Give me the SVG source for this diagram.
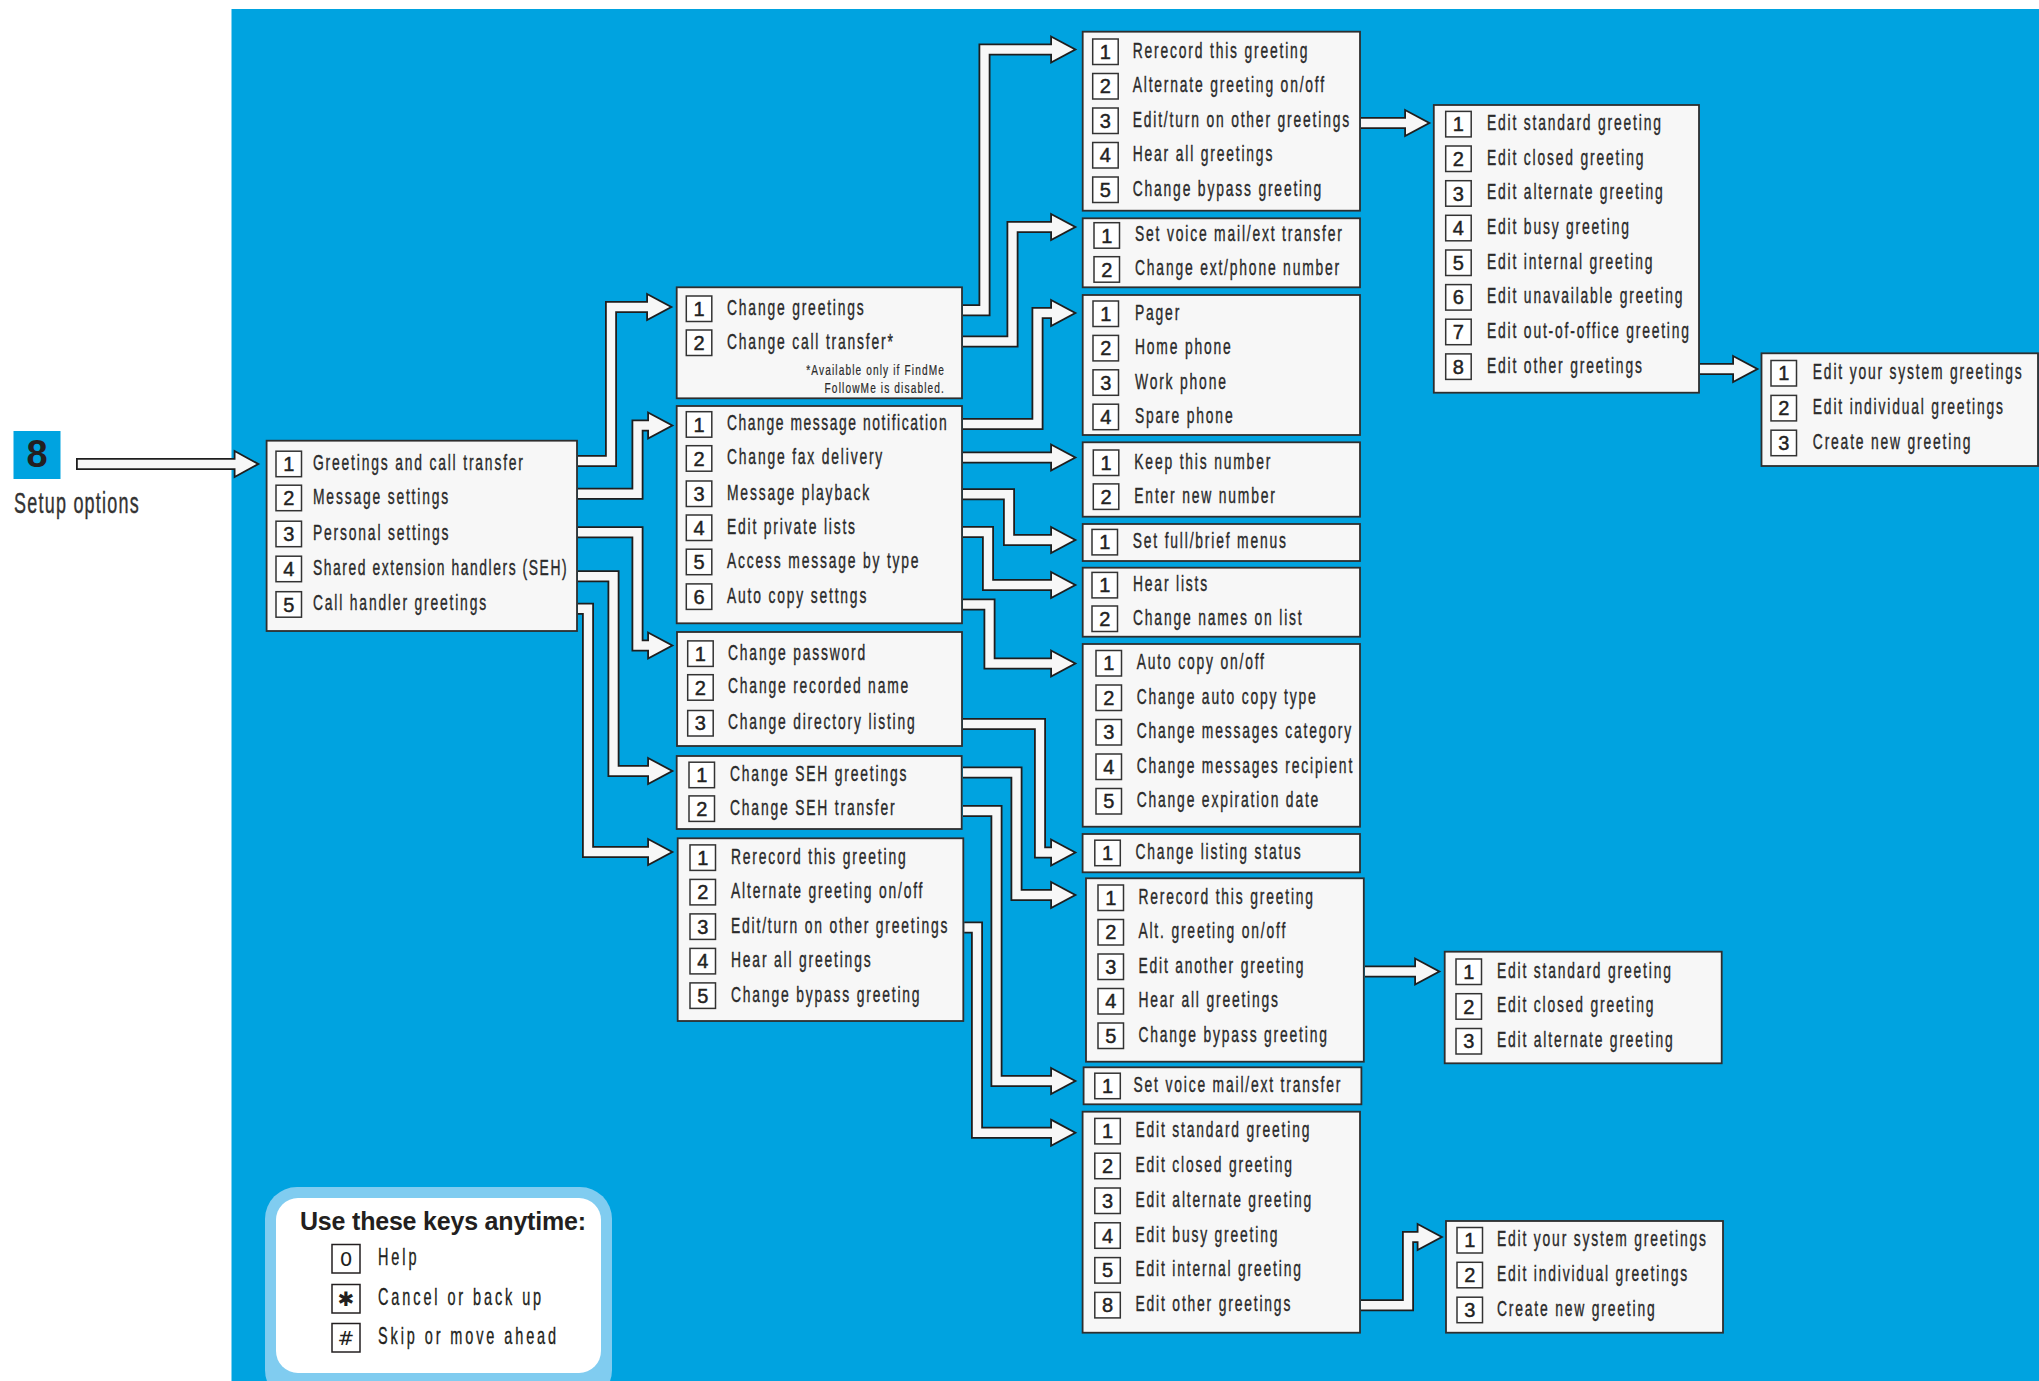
<svg xmlns="http://www.w3.org/2000/svg" width="2039" height="1381" viewBox="0 0 2039 1381">
<style>
.bg{fill:#00a3e0}
.box{fill:#f7f7f7;stroke:#2e2e2e;stroke-width:1.8}
.nb{fill:#fff;stroke:#333;stroke-width:1.5}
.d{font-family:"Liberation Sans",Arial,sans-serif;font-size:20px;fill:#222;text-anchor:middle;stroke:#222;stroke-width:0.45}
.t{font-family:"Liberation Sans",Arial,sans-serif;font-size:22px;letter-spacing:2.9px;fill:#2a2a2a;stroke:#2a2a2a;stroke-width:0.4}
.fn{font-family:"Liberation Sans",Arial,sans-serif;font-size:14.5px;letter-spacing:1.6px;fill:#2a2a2a;text-anchor:end;stroke:#2a2a2a;stroke-width:0.2}
.co{fill:none;stroke:#1e1e1e;stroke-width:12;stroke-linejoin:miter}
.ci{fill:none;stroke:#f7f7f7;stroke-width:8.4;stroke-linejoin:miter}
.ho{fill:#1e1e1e;stroke:#1e1e1e;stroke-width:3.6;stroke-linejoin:miter}
.hi{fill:#f7f7f7}
.lt{font-family:"Liberation Sans",Arial,sans-serif;font-size:23px;letter-spacing:4.6px;fill:#231f20;stroke:#231f20;stroke-width:0.35}
.kb{fill:#fff;stroke:#231f20;stroke-width:1.5}
.kd{font-family:"DejaVu Sans","Liberation Sans",sans-serif;font-size:20px;fill:#231f20;text-anchor:middle}
</style>
<rect class="bg" x="231.5" y="9" width="1807.5" height="1372"/>

<g id="title">
<rect class="bg" x="13.5" y="431" width="47" height="48"/>
<text x="37" y="467" style="font-family:'Liberation Sans',Arial,sans-serif;font-size:38px;font-weight:bold;fill:#231f20;text-anchor:middle">8</text>
<text x="14" y="513" transform="matrix(0.62 0 0 1 5.32 0)" style="font-family:'Liberation Sans',Arial,sans-serif;font-size:29px;letter-spacing:2px;fill:#333;stroke:#333;stroke-width:0.4">Setup options</text>
</g>

<g id="connectors">
<g><path class="co" d="M76 464H236.5"/><polygon class="ho" points="235.5,452.5 256.5,464 235.5,475.5"/><path class="ci" d="M77.8 464H236.5"/><polygon class="hi" points="235.5,452.5 256.5,464 235.5,475.5"/></g>
<g><path class="co" d="M578 461H611V307H649"/><polygon class="ho" points="648,295.5 669.5,307 648,318.5"/><path class="ci" d="M578 461H611V307H649"/><polygon class="hi" points="648,295.5 669.5,307 648,318.5"/></g>
<g><path class="co" d="M578 493.7H637.5V425.5H650"/><polygon class="ho" points="649,414 670.5,425.5 649,437"/><path class="ci" d="M578 493.7H637.5V425.5H650"/><polygon class="hi" points="649,414 670.5,425.5 649,437"/></g>
<g><path class="co" d="M578 532.2H637.5V645.5H650"/><polygon class="ho" points="649,634 670.5,645.5 649,657"/><path class="ci" d="M578 532.2H637.5V645.5H650"/><polygon class="hi" points="649,634 670.5,645.5 649,657"/></g>
<g><path class="co" d="M578 576.2H613.5V771H650"/><polygon class="ho" points="649,759.5 670.5,771 649,782.5"/><path class="ci" d="M578 576.2H613.5V771H650"/><polygon class="hi" points="649,759.5 670.5,771 649,782.5"/></g>
<g><path class="co" d="M578 608.8H588V852H650"/><polygon class="ho" points="649,840.5 670.5,852 649,863.5"/><path class="ci" d="M578 608.8H588V852H650"/><polygon class="hi" points="649,840.5 670.5,852 649,863.5"/></g>

<g><path class="co" d="M963 310.3H984.5V49.5H1053"/><polygon class="ho" points="1052,38 1073.5,49.5 1052,61"/><path class="ci" d="M963 310.3H984.5V49.5H1053"/><polygon class="hi" points="1052,38 1073.5,49.5 1052,61"/></g>
<g><path class="co" d="M963 341.5H1012.5V227H1053"/><polygon class="ho" points="1052,215.5 1073.5,227 1052,238.5"/><path class="ci" d="M963 341.5H1012.5V227H1053"/><polygon class="hi" points="1052,215.5 1073.5,227 1052,238.5"/></g>
<g><path class="co" d="M963 424H1037.5V313H1053"/><polygon class="ho" points="1052,301.5 1073.5,313 1052,324.5"/><path class="ci" d="M963 424H1037.5V313H1053"/><polygon class="hi" points="1052,301.5 1073.5,313 1052,324.5"/></g>
<g><path class="co" d="M963 457.5H1053"/><polygon class="ho" points="1052,446 1073.5,457.5 1052,469"/><path class="ci" d="M963 457.5H1053"/><polygon class="hi" points="1052,446 1073.5,457.5 1052,469"/></g>
<g><path class="co" d="M963 494.3H1009V540H1053"/><polygon class="ho" points="1052,528.5 1073.5,540 1052,551.5"/><path class="ci" d="M963 494.3H1009V540H1053"/><polygon class="hi" points="1052,528.5 1073.5,540 1052,551.5"/></g>
<g><path class="co" d="M963 532H988V585H1053"/><polygon class="ho" points="1052,573.5 1073.5,585 1052,596.5"/><path class="ci" d="M963 532H988V585H1053"/><polygon class="hi" points="1052,573.5 1073.5,585 1052,596.5"/></g>
<g><path class="co" d="M963 604.5H989.5V663.5H1053"/><polygon class="ho" points="1052,652 1073.5,663.5 1052,675"/><path class="ci" d="M963 604.5H989.5V663.5H1053"/><polygon class="hi" points="1052,652 1073.5,663.5 1052,675"/></g>
<g><path class="co" d="M963 724H1040V852.5H1053"/><polygon class="ho" points="1052,841 1073.5,852.5 1052,864"/><path class="ci" d="M963 724H1040V852.5H1053"/><polygon class="hi" points="1052,841 1073.5,852.5 1052,864"/></g>
<g><path class="co" d="M963 772.5H1016.5V895H1053"/><polygon class="ho" points="1052,883.5 1073.5,895 1052,906.5"/><path class="ci" d="M963 772.5H1016.5V895H1053"/><polygon class="hi" points="1052,883.5 1073.5,895 1052,906.5"/></g>
<g><path class="co" d="M963 811H996.5V1081H1053"/><polygon class="ho" points="1052,1069.5 1073.5,1081 1052,1092.5"/><path class="ci" d="M963 811H996.5V1081H1053"/><polygon class="hi" points="1052,1069.5 1073.5,1081 1052,1092.5"/></g>
<g><path class="co" d="M964.3 927.5H977V1132.7H1053"/><polygon class="ho" points="1052,1121.2 1073.5,1132.7 1052,1144.2"/><path class="ci" d="M964.3 927.5H977V1132.7H1053"/><polygon class="hi" points="1052,1121.2 1073.5,1132.7 1052,1144.2"/></g>

<g><path class="co" d="M1361 123H1407"/><polygon class="ho" points="1406,111.5 1427.5,123 1406,134.5"/><path class="ci" d="M1361 123H1407"/><polygon class="hi" points="1406,111.5 1427.5,123 1406,134.5"/></g>
<g><path class="co" d="M1700 369H1735"/><polygon class="ho" points="1734,357.5 1755.6,369 1734,380.5"/><path class="ci" d="M1700 369H1735"/><polygon class="hi" points="1734,357.5 1755.6,369 1734,380.5"/></g>
<g><path class="co" d="M1365 971.5H1417"/><polygon class="ho" points="1416,960 1437.5,971.5 1416,983"/><path class="ci" d="M1365 971.5H1417"/><polygon class="hi" points="1416,960 1437.5,971.5 1416,983"/></g>
<g><path class="co" d="M1361 1305.3H1408V1237H1419.5"/><polygon class="ho" points="1418.5,1225.5 1440,1237 1418.5,1248.5"/><path class="ci" d="M1361 1305.3H1408V1237H1419.5"/><polygon class="hi" points="1418.5,1225.5 1440,1237 1418.5,1248.5"/></g>
</g>

<g id="node-main">
<rect class="box" x="266.6" y="440.7" width="310.4" height="190.3"/>
<rect class="nb" x="276" y="451.2" width="25.5" height="25.5"/><text class="d" x="288.8" y="471">1</text>
<rect class="nb" x="276" y="485.2" width="25.5" height="25.5"/><text class="d" x="288.8" y="505">2</text>
<rect class="nb" x="276" y="521.2" width="25.5" height="25.5"/><text class="d" x="288.8" y="541">3</text>
<rect class="nb" x="276" y="556.2" width="25.5" height="25.5"/><text class="d" x="288.8" y="576">4</text>
<rect class="nb" x="276" y="591.7" width="25.5" height="25.5"/><text class="d" x="288.8" y="611.5">5</text>
<g transform="matrix(0.63 0 0 1 115.81 0)">
<text class="t" x="313" y="470">Greetings and call transfer</text>
<text class="t" x="313" y="504">Message settings</text>
<text class="t" x="313" y="540">Personal settings</text>
<text class="t" x="313" y="575" style="letter-spacing:2.5px">Shared extension handlers (SEH)</text>
<text class="t" x="313" y="610.5">Call handler greetings</text>
</g>
</g>

<g id="node-greetings-transfer">
<rect class="box" x="676.7" y="287.3" width="285.3" height="111"/>
<rect class="nb" x="686.3" y="296" width="25.5" height="25.5"/><text class="d" x="699" y="315.8">1</text>
<rect class="nb" x="686.3" y="330" width="25.5" height="25.5"/><text class="d" x="699" y="349.8">2</text>
<g transform="matrix(0.63 0 0 1 268.99 0)">
<text class="t" x="727" y="314.8">Change greetings</text>
<text class="t" x="727" y="348.8">Change call transfer*</text>
</g>
<g transform="matrix(0.7 0 0 1 283.5 0)">
<text class="fn" x="945" y="375">*Available only if FindMe</text>
<text class="fn" x="945" y="393.5">FollowMe is disabled.</text>
</g>
</g>

<g id="node-message-settings">
<rect class="box" x="676.7" y="406" width="285.3" height="217.3"/>
<rect class="nb" x="686.3" y="411.7" width="25.5" height="25.5"/><text class="d" x="699" y="431.5">1</text>
<rect class="nb" x="686.3" y="445.7" width="25.5" height="25.5"/><text class="d" x="699" y="465.5">2</text>
<rect class="nb" x="686.3" y="481" width="25.5" height="25.5"/><text class="d" x="699" y="500.8">3</text>
<rect class="nb" x="686.3" y="515" width="25.5" height="25.5"/><text class="d" x="699" y="534.8">4</text>
<rect class="nb" x="686.3" y="549.2" width="25.5" height="25.5"/><text class="d" x="699" y="569">5</text>
<rect class="nb" x="686.3" y="583.9" width="25.5" height="25.5"/><text class="d" x="699" y="603.7">6</text>
<g transform="matrix(0.63 0 0 1 268.99 0)">
<text class="t" x="727" y="430.5" style="letter-spacing:2.5px">Change message notification</text>
<text class="t" x="727" y="464.5">Change fax delivery</text>
<text class="t" x="727" y="499.8">Message playback</text>
<text class="t" x="727" y="533.8">Edit private lists</text>
<text class="t" x="727" y="568">Access message by type</text>
<text class="t" x="727" y="602.7">Auto copy settngs</text>
</g>
</g>

<g id="node-personal-settings">
<rect class="box" x="677" y="632" width="285" height="114"/>
<rect class="nb" x="687.7" y="640.9" width="25.5" height="25.5"/><text class="d" x="700.4" y="660.7">1</text>
<rect class="nb" x="687.7" y="674.7" width="25.5" height="25.5"/><text class="d" x="700.4" y="694.5">2</text>
<rect class="nb" x="687.7" y="710.5" width="25.5" height="25.5"/><text class="d" x="700.4" y="730.3">3</text>
<g transform="matrix(0.63 0 0 1 269.36 0)">
<text class="t" x="728" y="659.7">Change password</text>
<text class="t" x="728" y="693.5">Change recorded name</text>
<text class="t" x="728" y="729.3">Change directory listing</text>
</g>
</g>

<g id="node-seh">
<rect class="box" x="676.7" y="756" width="285" height="73"/>
<rect class="nb" x="689" y="762.2" width="25.5" height="25.5"/><text class="d" x="701.7" y="782">1</text>
<rect class="nb" x="689" y="795.9" width="25.5" height="25.5"/><text class="d" x="701.7" y="815.7">2</text>
<g transform="matrix(0.63 0 0 1 270.1 0)">
<text class="t" x="730" y="781">Change SEH greetings</text>
<text class="t" x="730" y="814.7">Change SEH transfer</text>
</g>
</g>

<g id="node-call-handler">
<rect class="box" x="677.7" y="838.3" width="285.6" height="182.7"/>
<rect class="nb" x="690" y="844.9" width="25.5" height="25.5"/><text class="d" x="702.7" y="864.7">1</text>
<rect class="nb" x="690" y="879.4" width="25.5" height="25.5"/><text class="d" x="702.7" y="899.2">2</text>
<rect class="nb" x="690" y="913.9" width="25.5" height="25.5"/><text class="d" x="702.7" y="933.7">3</text>
<rect class="nb" x="690" y="948.4" width="25.5" height="25.5"/><text class="d" x="702.7" y="968.2">4</text>
<rect class="nb" x="690" y="982.9" width="25.5" height="25.5"/><text class="d" x="702.7" y="1002.7">5</text>
<g transform="matrix(0.63 0 0 1 270.47 0)">
<text class="t" x="731" y="863.7">Rerecord this greeting</text>
<text class="t" x="731" y="898.2">Alternate greeting on/off</text>
<text class="t" x="731" y="932.7">Edit/turn on other greetings</text>
<text class="t" x="731" y="967.2">Hear all greetings</text>
<text class="t" x="731" y="1001.7">Change bypass greeting</text>
</g>
</g>

<g id="node-change-greetings">
<rect class="box" x="1082.7" y="31.7" width="277.3" height="179"/>
<rect class="nb" x="1092.7" y="39" width="25.5" height="25.5"/><text class="d" x="1105.4" y="58.8">1</text>
<rect class="nb" x="1092.7" y="73.5" width="25.5" height="25.5"/><text class="d" x="1105.4" y="93.3">2</text>
<rect class="nb" x="1092.7" y="108" width="25.5" height="25.5"/><text class="d" x="1105.4" y="127.8">3</text>
<rect class="nb" x="1092.7" y="142.5" width="25.5" height="25.5"/><text class="d" x="1105.4" y="162.3">4</text>
<rect class="nb" x="1092.7" y="177" width="25.5" height="25.5"/><text class="d" x="1105.4" y="196.8">5</text>
<g transform="matrix(0.63 0 0 1 419.099 0)">
<text class="t" x="1132.7" y="57.8">Rerecord this greeting</text>
<text class="t" x="1132.7" y="92.3">Alternate greeting on/off</text>
<text class="t" x="1132.7" y="126.8">Edit/turn on other greetings</text>
<text class="t" x="1132.7" y="161.3">Hear all greetings</text>
<text class="t" x="1132.7" y="195.8">Change bypass greeting</text>
</g>
</g>

<g id="node-call-transfer">
<rect class="box" x="1082.7" y="218.3" width="277.3" height="69"/>
<rect class="nb" x="1094" y="222.7" width="25.5" height="25.5"/><text class="d" x="1106.7" y="242.5">1</text>
<rect class="nb" x="1094" y="256.7" width="25.5" height="25.5"/><text class="d" x="1106.7" y="276.5">2</text>
<g transform="matrix(0.63 0 0 1 419.95 0)">
<text class="t" x="1135" y="241.5">Set voice mail/ext transfer</text>
<text class="t" x="1135" y="275.5">Change ext/phone number</text>
</g>
</g>

<g id="node-notification">
<rect class="box" x="1082.7" y="295" width="277.3" height="140"/>
<rect class="nb" x="1093" y="301" width="25.5" height="25.5"/><text class="d" x="1105.7" y="320.8">1</text>
<rect class="nb" x="1093" y="335.4" width="25.5" height="25.5"/><text class="d" x="1105.7" y="355.2">2</text>
<rect class="nb" x="1093" y="369.8" width="25.5" height="25.5"/><text class="d" x="1105.7" y="389.6">3</text>
<rect class="nb" x="1093" y="404.2" width="25.5" height="25.5"/><text class="d" x="1105.7" y="424">4</text>
<g transform="matrix(0.63 0 0 1 419.95 0)">
<text class="t" x="1135" y="319.8">Pager</text>
<text class="t" x="1135" y="354.2">Home phone</text>
<text class="t" x="1135" y="388.6">Work phone</text>
<text class="t" x="1135" y="423">Spare phone</text>
</g>
</g>

<g id="node-fax">
<rect class="box" x="1082.7" y="442.3" width="277.3" height="74.4"/>
<rect class="nb" x="1093.3" y="450" width="25.5" height="25.5"/><text class="d" x="1106" y="469.8">1</text>
<rect class="nb" x="1093.3" y="483.9" width="25.5" height="25.5"/><text class="d" x="1106" y="503.7">2</text>
<g transform="matrix(0.63 0 0 1 419.691 0)">
<text class="t" x="1134.3" y="468.8">Keep this number</text>
<text class="t" x="1134.3" y="502.7">Enter new number</text>
</g>
</g>

<g id="node-playback">
<rect class="box" x="1082.7" y="524" width="277.3" height="37"/>
<rect class="nb" x="1092" y="529.4" width="25.5" height="25.5"/><text class="d" x="1104.7" y="549.2">1</text>
<g transform="matrix(0.63 0 0 1 419.099 0)">
<text class="t" x="1132.7" y="548.2">Set full/brief menus</text>
</g>
</g>

<g id="node-lists">
<rect class="box" x="1082.7" y="567.7" width="277.3" height="69"/>
<rect class="nb" x="1092" y="572.4" width="25.5" height="25.5"/><text class="d" x="1104.7" y="592.2">1</text>
<rect class="nb" x="1092" y="606" width="25.5" height="25.5"/><text class="d" x="1104.7" y="625.8">2</text>
<g transform="matrix(0.63 0 0 1 419.21 0)">
<text class="t" x="1133" y="591.2">Hear lists</text>
<text class="t" x="1133" y="624.8">Change names on list</text>
</g>
</g>

<g id="node-auto-copy">
<rect class="box" x="1082.7" y="644" width="277.3" height="182.7"/>
<rect class="nb" x="1096" y="650.5" width="25.5" height="25.5"/><text class="d" x="1108.7" y="670.3">1</text>
<rect class="nb" x="1096" y="685" width="25.5" height="25.5"/><text class="d" x="1108.7" y="704.8">2</text>
<rect class="nb" x="1096" y="719.5" width="25.5" height="25.5"/><text class="d" x="1108.7" y="739.3">3</text>
<rect class="nb" x="1096" y="754" width="25.5" height="25.5"/><text class="d" x="1108.7" y="773.8">4</text>
<rect class="nb" x="1096" y="788.5" width="25.5" height="25.5"/><text class="d" x="1108.7" y="808.3">5</text>
<g transform="matrix(0.63 0 0 1 420.579 0)">
<text class="t" x="1136.7" y="669.3">Auto copy on/off</text>
<text class="t" x="1136.7" y="703.8">Change auto copy type</text>
<text class="t" x="1136.7" y="738.3">Change messages category</text>
<text class="t" x="1136.7" y="772.8">Change messages recipient</text>
<text class="t" x="1136.7" y="807.3">Change expiration date</text>
</g>
</g>

<g id="node-listing">
<rect class="box" x="1082.6" y="834" width="277.4" height="38.3"/>
<rect class="nb" x="1094.8" y="840.2" width="25.5" height="25.5"/><text class="d" x="1107.5" y="860">1</text>
<g transform="matrix(0.63 0 0 1 420.135 0)">
<text class="t" x="1135.5" y="859">Change listing status</text>
</g>
</g>

<g id="node-seh-greetings">
<rect class="box" x="1086" y="878.3" width="277.8" height="183.4"/>
<rect class="nb" x="1098" y="885" width="25.5" height="25.5"/><text class="d" x="1110.7" y="904.8">1</text>
<rect class="nb" x="1098" y="919.5" width="25.5" height="25.5"/><text class="d" x="1110.7" y="939.3">2</text>
<rect class="nb" x="1098" y="954" width="25.5" height="25.5"/><text class="d" x="1110.7" y="973.8">3</text>
<rect class="nb" x="1098" y="988.5" width="25.5" height="25.5"/><text class="d" x="1110.7" y="1008.3">4</text>
<rect class="nb" x="1098" y="1023" width="25.5" height="25.5"/><text class="d" x="1110.7" y="1042.8">5</text>
<g transform="matrix(0.63 0 0 1 421.208 0)">
<text class="t" x="1138.4" y="903.8">Rerecord this greeting</text>
<text class="t" x="1138.4" y="938.3">Alt. greeting on/off</text>
<text class="t" x="1138.4" y="972.8">Edit another greeting</text>
<text class="t" x="1138.4" y="1007.3">Hear all greetings</text>
<text class="t" x="1138.4" y="1041.8">Change bypass greeting</text>
</g>
</g>

<g id="node-seh-transfer">
<rect class="box" x="1083.6" y="1067.3" width="277.8" height="37"/>
<rect class="nb" x="1094.8" y="1073.2" width="25.5" height="25.5"/><text class="d" x="1107.5" y="1093">1</text>
<g transform="matrix(0.63 0 0 1 419.395 0)">
<text class="t" x="1133.5" y="1092">Set voice mail/ext transfer</text>
</g>
</g>

<g id="node-edit-greetings-b">
<rect class="box" x="1082.6" y="1111.7" width="277.4" height="221"/>
<rect class="nb" x="1094.8" y="1118.4" width="25.5" height="25.5"/><text class="d" x="1107.5" y="1138.2">1</text>
<rect class="nb" x="1094.8" y="1153.2" width="25.5" height="25.5"/><text class="d" x="1107.5" y="1173">2</text>
<rect class="nb" x="1094.8" y="1188" width="25.5" height="25.5"/><text class="d" x="1107.5" y="1207.8">3</text>
<rect class="nb" x="1094.8" y="1222.8" width="25.5" height="25.5"/><text class="d" x="1107.5" y="1242.6">4</text>
<rect class="nb" x="1094.8" y="1257.6" width="25.5" height="25.5"/><text class="d" x="1107.5" y="1277.4">5</text>
<rect class="nb" x="1094.8" y="1292.4" width="25.5" height="25.5"/><text class="d" x="1107.5" y="1312.2">8</text>
<g transform="matrix(0.63 0 0 1 420.135 0)">
<text class="t" x="1135.5" y="1137.2">Edit standard greeting</text>
<text class="t" x="1135.5" y="1172">Edit closed greeting</text>
<text class="t" x="1135.5" y="1206.8">Edit alternate greeting</text>
<text class="t" x="1135.5" y="1241.6">Edit busy greeting</text>
<text class="t" x="1135.5" y="1276.4">Edit internal greeting</text>
<text class="t" x="1135.5" y="1311.2">Edit other greetings</text>
</g>
</g>

<g id="node-edit-greetings-a">
<rect class="box" x="1433.8" y="105" width="265.2" height="287.7"/>
<rect class="nb" x="1445.7" y="111.4" width="25.5" height="25.5"/><text class="d" x="1458.4" y="131.2">1</text>
<rect class="nb" x="1445.7" y="146" width="25.5" height="25.5"/><text class="d" x="1458.4" y="165.8">2</text>
<rect class="nb" x="1445.7" y="180.7" width="25.5" height="25.5"/><text class="d" x="1458.4" y="200.5">3</text>
<rect class="nb" x="1445.7" y="215.3" width="25.5" height="25.5"/><text class="d" x="1458.4" y="235.1">4</text>
<rect class="nb" x="1445.7" y="250" width="25.5" height="25.5"/><text class="d" x="1458.4" y="269.8">5</text>
<rect class="nb" x="1445.7" y="284.6" width="25.5" height="25.5"/><text class="d" x="1458.4" y="304.4">6</text>
<rect class="nb" x="1445.7" y="319.2" width="25.5" height="25.5"/><text class="d" x="1458.4" y="339">7</text>
<rect class="nb" x="1445.7" y="353.9" width="25.5" height="25.5"/><text class="d" x="1458.4" y="373.7">8</text>
<g transform="matrix(0.63 0 0 1 550.19 0)">
<text class="t" x="1487" y="130.2">Edit standard greeting</text>
<text class="t" x="1487" y="164.8">Edit closed greeting</text>
<text class="t" x="1487" y="199.5">Edit alternate greeting</text>
<text class="t" x="1487" y="234.1">Edit busy greeting</text>
<text class="t" x="1487" y="268.8">Edit internal greeting</text>
<text class="t" x="1487" y="303.4">Edit unavailable greeting</text>
<text class="t" x="1487" y="338">Edit out-of-office greeting</text>
<text class="t" x="1487" y="372.7">Edit other greetings</text>
</g>
</g>

<g id="node-other-greetings-a">
<rect class="box" x="1761.5" y="353.3" width="276.5" height="112.7"/>
<rect class="nb" x="1771" y="360.5" width="25.5" height="25.5"/><text class="d" x="1783.7" y="380.3">1</text>
<rect class="nb" x="1771" y="395.4" width="25.5" height="25.5"/><text class="d" x="1783.7" y="415.2">2</text>
<rect class="nb" x="1771" y="430.2" width="25.5" height="25.5"/><text class="d" x="1783.7" y="450">3</text>
<g transform="matrix(0.63 0 0 1 670.736 0)">
<text class="t" x="1812.8" y="379.3">Edit your system greetings</text>
<text class="t" x="1812.8" y="414.2">Edit individual greetings</text>
<text class="t" x="1812.8" y="449">Create new greeting</text>
</g>
</g>

<g id="node-another-greeting">
<rect class="box" x="1444.7" y="951.7" width="277" height="111.6"/>
<rect class="nb" x="1456" y="959" width="25.5" height="25.5"/><text class="d" x="1468.7" y="978.8">1</text>
<rect class="nb" x="1456" y="993.7" width="25.5" height="25.5"/><text class="d" x="1468.7" y="1013.5">2</text>
<rect class="nb" x="1456" y="1028.5" width="25.5" height="25.5"/><text class="d" x="1468.7" y="1048.3">3</text>
<g transform="matrix(0.63 0 0 1 553.89 0)">
<text class="t" x="1497" y="977.8">Edit standard greeting</text>
<text class="t" x="1497" y="1012.5">Edit closed greeting</text>
<text class="t" x="1497" y="1047.3">Edit alternate greeting</text>
</g>
</g>

<g id="node-other-greetings-b">
<rect class="box" x="1446" y="1221" width="277" height="111.7"/>
<rect class="nb" x="1457" y="1227.5" width="25.5" height="25.5"/><text class="d" x="1469.7" y="1247.3">1</text>
<rect class="nb" x="1457" y="1262.3" width="25.5" height="25.5"/><text class="d" x="1469.7" y="1282.1">2</text>
<rect class="nb" x="1457" y="1297.2" width="25.5" height="25.5"/><text class="d" x="1469.7" y="1317">3</text>
<g transform="matrix(0.63 0 0 1 553.89 0)">
<text class="t" x="1497" y="1246.3">Edit your system greetings</text>
<text class="t" x="1497" y="1281.1">Edit individual greetings</text>
<text class="t" x="1497" y="1316">Create new greeting</text>
</g>
</g>

<g id="legend">
<rect x="265" y="1187" width="347" height="215" rx="32" fill="#80ccf0"/>
<rect x="276" y="1198" width="325" height="175" rx="22" fill="#ffffff"/>
<text x="300" y="1230" style="font-family:'Liberation Sans',Arial,sans-serif;font-size:25px;font-weight:bold;fill:#231f20;letter-spacing:-0.2px">Use these keys anytime:</text>
<rect class="kb" x="332" y="1244.5" width="28" height="28.5"/><text class="kd" x="346" y="1266">0</text>
<rect class="kb" x="332" y="1284.5" width="28" height="28.5"/><text class="kd" x="346" y="1306">✱</text>
<rect class="kb" x="332" y="1323.5" width="28" height="28.5"/><text class="kd" x="346" y="1345">#</text>
<g transform="matrix(0.63 0 0 1 139.86 0)">
<text class="lt" x="378" y="1265">Help</text>
<text class="lt" x="378" y="1305">Cancel or back up</text>
<text class="lt" x="378" y="1344">Skip or move ahead</text>
</g>
</g>
</svg>
